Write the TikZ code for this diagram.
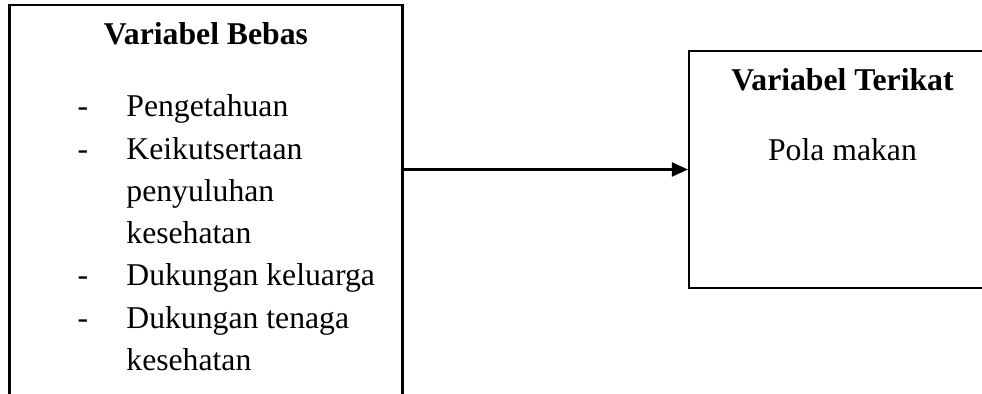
\documentclass[tikz,border=0pt]{standalone}
\usepackage{fontspec}
\setmainfont{Liberation Serif}
\usetikzlibrary{arrows.meta}

\begin{document}
\begin{tikzpicture}[%
    x=0.5pt,
    y=-0.5pt,
    box/.style={%
        draw,
        line width=1.1pt,
        inner sep=0pt
    },
    heading/.style={%
        font=\fontsize{15.85}{19}\selectfont\bfseries,
        anchor=base,
        inner sep=0pt
    },
    entry/.style={%
        font=\fontsize{15.85}{19}\selectfont,
        anchor=base west,
        inner sep=0pt
    },
    plain/.style={%
        font=\fontsize{15.85}{19}\selectfont,
        anchor=base,
        inner sep=0pt
    },
    >={Triangle[length=8pt,width=7pt]}
]

\useasboundingbox (0,0) rectangle (982,394);
\clip (0,0) rectangle (982,394);

% Boxes
    \node[box, minimum width=196.5pt, minimum height=215pt] (bebas) at (206,220) {};
    \node[box, minimum width=153.5pt, minimum height=118.65pt] (terikat) at (842.5,169.5) {};

% Variabel bebas
    \node[heading] (bebasTitle) at (206,45) {Variabel Bebas};
    \node[plain] (dash1) at (83,117) {-};
    \node[entry] (item1) at (126,117) {Pengetahuan};
    \node[plain] (dash2) at (83,159.5) {-};
    \node[entry] (item2a) at (126,159.5) {Keikutsertaan};
    \node[entry] (item2b) at (126,202) {penyuluhan};
    \node[entry] (item2c) at (126,244) {kesehatan};
    \node[plain] (dash3) at (83,286) {-};
    \node[entry] (item3) at (126,286) {Dukungan keluarga};
    \node[plain] (dash4) at (83,328.5) {-};
    \node[entry] (item4a) at (126,328.5) {Dukungan tenaga};
    \node[entry] (item4b) at (126,371) {kesehatan};

% Variabel terikat
    \node[heading] (terikatTitle) at (842.5,91) {Variabel Terikat};
    \node[plain] (terikatItem) at (842.5,161) {Pola makan};

% Arrow
\draw[->, line width=1.1pt] (bebas.east |- terikat.west) -- (terikat.west);

\end{tikzpicture}
\end{document}
